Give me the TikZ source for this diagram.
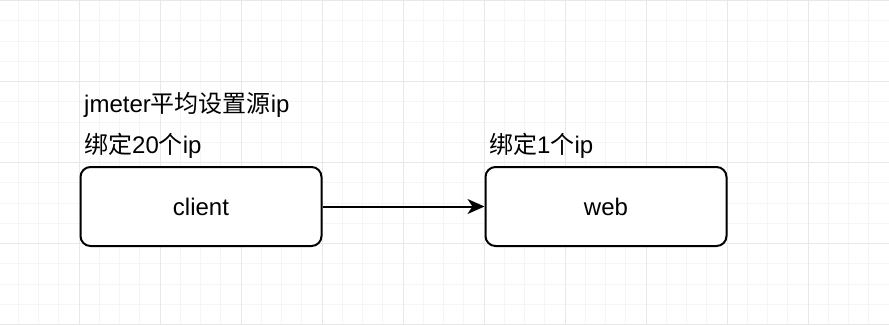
\documentclass[tikz,border=0pt]{standalone}
\usepackage{fontspec}
\setmainfont{Liberation Sans}
\newfontfamily\cjk{Noto Sans CJK SC}
\usetikzlibrary{arrows.meta}
\tikzset{
  minorgrid/.style={draw=black!4, line width=1pt},
  majorgrid/.style={draw=black!9, line width=1pt},
  boxnode/.style={draw=black, line width=2pt, rounded corners=10pt, fill=white,
    minimum width=241pt, minimum height=79pt, inner sep=0pt, font=\fontsize{24}{28}\selectfont},
  labeltext/.style={anchor=base west, inner sep=0pt, font=\fontsize{24}{28}\selectfont},
  conn/.style={line width=2pt, -{Stealth[length=17pt, width=15pt, inset=5pt]}}
}
\begin{document}
\begin{tikzpicture}[x=1pt, y=-1pt]
\useasboundingbox (0,0) rectangle (889,325);
\fill[white] (0,0) rectangle (889,325);
% minor grid
\foreach \k in {0,...,45} {
  \draw[minorgrid] ({-2+\k*20.25},0) -- ({-2+\k*20.25},325);
}
\foreach \k in {0,...,16} {
  \draw[minorgrid] (0,{0.7+\k*20.25}) -- (889,{0.7+\k*20.25});
}
% major grid
\foreach \k in {0,...,11} {
  \draw[majorgrid] ({-2+\k*81},0) -- ({-2+\k*81},325);
}
\foreach \k in {0,...,4} {
  \draw[majorgrid] (0,{0.7+\k*81}) -- (889,{0.7+\k*81});
}
% boxes
\node[boxnode] (client) at (201,206.5) {client};
\node[boxnode] (web) at (606,206.5) {web};
% labels
\node[labeltext] (t1) at (84,112) {jmeter{\cjk 平均设置源}ip};
\node[labeltext] (t2) at (84,153) {{\cjk 绑定}20{\cjk 个}ip};
\node[labeltext] (t3) at (489,153) {{\cjk 绑定}1{\cjk 个}ip};
% connector
\draw[conn] (client.east) -- (web.west);
\end{tikzpicture}
\end{document}
